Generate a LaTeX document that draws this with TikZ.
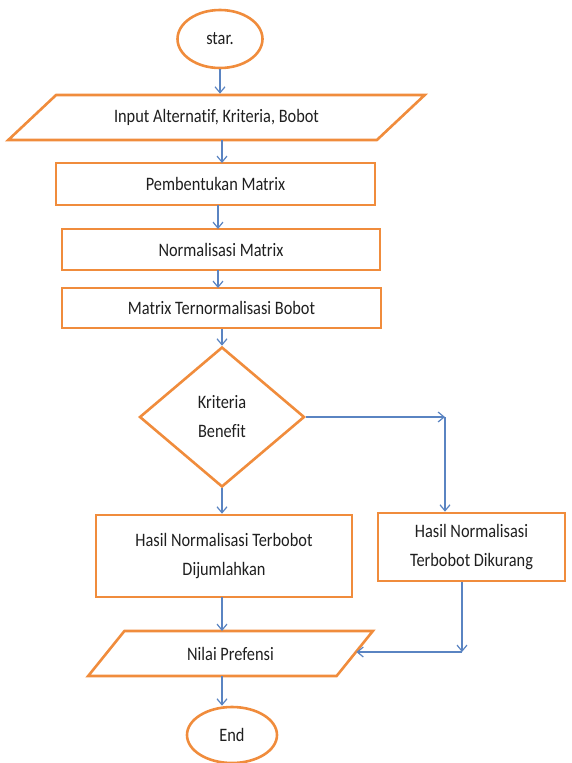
\documentclass[tikz,border=0pt]{standalone}
\usepackage{fontspec}
\setmainfont{Carlito}[FakeStretch=0.86, Ligatures={NoCommon,NoContextual}]
\usetikzlibrary{shapes.geometric,arrows.meta}
\definecolor{boxorange}{HTML}{F08C3C}
\definecolor{arrblue}{HTML}{5A84C2}
\tikzset{
  base/.style={draw=boxorange, line width=2.6pt, inner sep=0pt, align=center,
    font=\fontsize{19}{29}\selectfont, text=black!88},
  terminal/.style={base, ellipse},
  process/.style={base, rectangle},
  io/.style={base, trapezium, trapezium stretches=true},
  decision/.style={base, diamond, aspect=1.18},
  flow/.style={draw=arrblue, line width=1.2pt, -{Straight Barb[length=6pt,width=10pt]}},
}
\begin{document}
\begin{tikzpicture}[x=1pt,y=-1pt]
\useasboundingbox (0,0) rectangle (571,763);
\node[terminal, minimum width=85pt, minimum height=58pt] (start) at (220,39) {star.};
\node[io, trapezium left angle=28, trapezium right angle=152, minimum width=417pt, minimum height=45pt] (inp) at (216.5,117.5) {Input Alternat\kern0pt if, Kriteria, Bobot};
\node[process, minimum width=319pt, minimum height=42pt] (pemb) at (215.5,184) {Pembentukan Matrix};
\node[process, minimum width=318pt, minimum height=41pt] (norm) at (221,249.5) {Normalisasi Matrix};
\node[process, minimum width=319pt, minimum height=40pt] (mtb) at (221.5,308) {Matrix Ternormalisasi Bobot};
\node[decision, minimum width=165pt, minimum height=140pt] (dec) at (222,417) {Kriteria\\Benef\kern0pt it};
\node[process, minimum width=256pt, minimum height=82pt] (lbox) at (224,556) {Hasil Normalisasi Terbobot\\Dijumlahkan};
\node[process, minimum width=187pt, minimum height=68pt] (rbox) at (471.5,547) {Hasil Normalisasi\\Terbobot Dikurang};
\node[io, trapezium left angle=42, trapezium right angle=138, minimum width=285pt, minimum height=45pt] (npref) at (230.5,653.5) {Nilai Prefensi};
\node[terminal, minimum width=90pt, minimum height=56pt] (end) at (232,735) {End};
\coordinate (c1) at (445,417);
\coordinate (c2) at (462,652);
\draw[flow] (start.south) -- (start.south |- inp.north);
\draw[flow] (222,140) -- (222,163);
\draw[flow] (218,205) -- (218,229);
\draw[flow] (218,270) -- (218,288);
\draw[flow] (mtb.south -| dec.north) -- (dec.north);
\draw[flow] (dec.south) -- (dec.south |- lbox.north);
\draw[flow] (dec.east) -- (c1);
\draw[flow] (c1) -- (c1 |- rbox.north);
\draw[flow] (c2 |- rbox.south) -- (c2);
\draw[flow] (c2) -- (c2 -| npref.east);
\draw[flow] (222,597) -- (222,631);
\draw[flow] (222,676) -- (end.north -| 222,0);
\end{tikzpicture}
\end{document}
